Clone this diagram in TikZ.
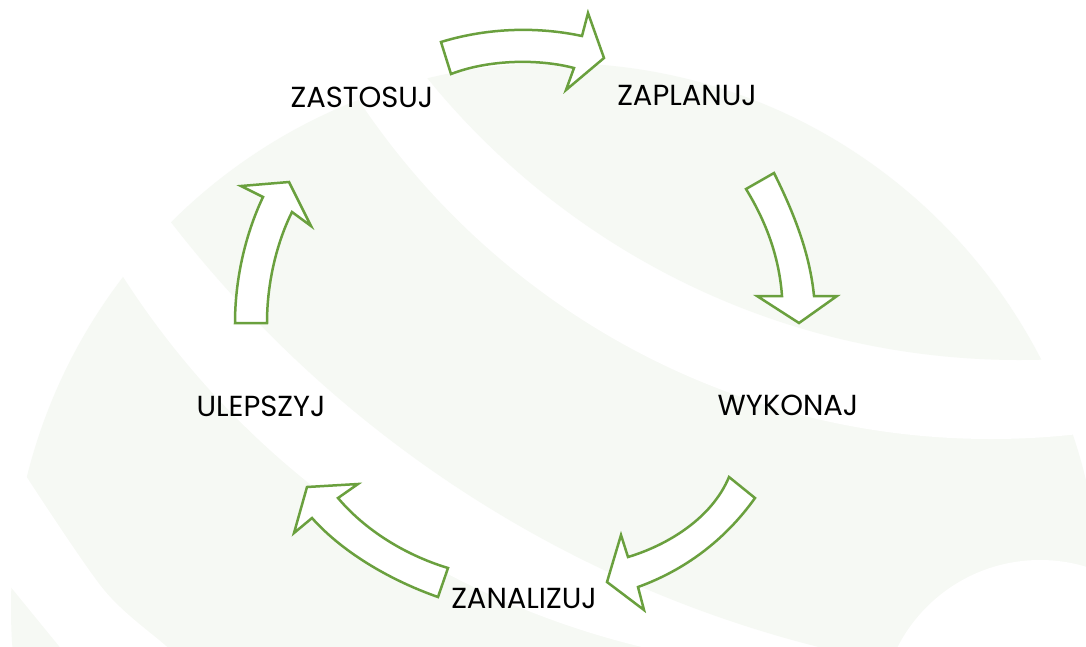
\documentclass[tikz,border=0pt]{standalone}
\usepackage{fontspec}
\setmainfont{Poppins}
\definecolor{globe}{RGB}{246,249,244}
\definecolor{cyclegreen}{RGB}{106,160,62}
\tikzset{
  lbl/.style={inner sep=0pt, text=black, font=\fontsize{29}{35}\selectfont},
  blockarrow/.style={draw=cyclegreen, fill=white, line width=2.5pt, line join=miter},
}
\begin{document}
\begin{tikzpicture}[x=1pt,y=-1pt]
\useasboundingbox (0,0) rectangle (1086,646);
\fill[white] (0,0) rectangle (1086,646);

% faint globe with curved white stripes
\begin{scope}
  \clip (0,0) rectangle (1086,646);
  \fill[globe] (556,608) circle (545pt);
  \fill[white] (844,-185) circle (856pt);
  \begin{scope}
    \clip (556,608) circle (545pt);
    \fill[globe] (1110,-504) circle (1187pt);
  \end{scope}
  \fill[white] (991,-320) circle (759pt);
  \begin{scope}
    \clip (556,608) circle (545pt);
    \fill[globe] (1019,-402) circle (762pt);
  \end{scope}
  \fill[white] (-10,420) -- plot[smooth] coordinates {(26,476) (104,590) (166,646) (200,677)}
    -- (90,680) -- (59,646) -- (10,586) -- (-40,520) -- cycle;
  \fill[white] (1040,720) circle (160pt);
\end{scope}

% labels
\node[lbl] (zastosuj)  at (362,97)  {ZASTOSUJ};
\node[lbl] (zaplanuj)  at (687,95)  {ZAPLANUJ};
\node[lbl] (wykonaj)   at (788,405) {WYKONAJ};
\node[lbl] (zanalizuj) at (524,598) {ZANALIZUJ};
\node[lbl] (ulepszyj)  at (261,406) {ULEPSZYJ};

% curved block arrows of the cycle
\draw[blockarrow] (441,42) .. controls (490,27) and (540,27) .. (582,36)
  -- (588,13) -- (604,58) -- (566,90) -- (574,68)
  .. controls (540,59) and (490,59) .. (451,74) -- cycle;
\draw[blockarrow] (746,189) -- (774,173) .. controls (795,215) and (810,255) .. (814,296)
  -- (837,296) -- (799,323) -- (757,296) -- (782,296)
  .. controls (779,255) and (765,220) .. (746,189) -- cycle;
\draw[blockarrow] (729,477) -- (755,498) .. controls (725,540) and (685,570) .. (638,587)
  -- (644,610) -- (607,582) -- (621,535) -- (628,557)
  .. controls (668,545) and (712,518) .. (729,477) -- cycle;
\draw[blockarrow] (448,568) -- (438,597) .. controls (395,582) and (345,555) .. (312,518)
  -- (294,533) -- (307,487) -- (358,484) -- (338,498)
  .. controls (365,530) and (405,555) .. (448,568) -- cycle;
\draw[blockarrow] (235,323) -- (267,323) .. controls (267,280) and (278,240) .. (292,212)
  -- (311,226) -- (289,182) -- (241,186) -- (263,197)
  .. controls (245,235) and (235,280) .. (235,323) -- cycle;
\end{tikzpicture}
\end{document}
